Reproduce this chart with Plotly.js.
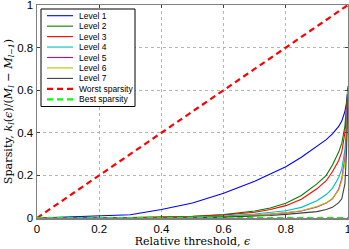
<!DOCTYPE html>
<html>
<head>
<meta charset="utf-8">
<script src="https://cdn.plot.ly/plotly-3.0.1.min.js"></script>
<style>html,body{margin:0;padding:0;background:#fff;}#chart{width:349px;height:249px;}</style>
</head>
<body>
<div id="chart"></div>
<script>
// ---- data ----
const eps = [0, 0.1, 0.2, 0.3, 0.4, 0.5, 0.6, 0.7, 0.75, 0.8, 0.85, 0.9, 0.93, 0.95, 0.97, 0.98, 0.99, 0.995, 1];
const level1 = [0, 0.005, 0.009, 0.015, 0.04, 0.07, 0.116, 0.172, 0.206, 0.241, 0.285, 0.335, 0.368, 0.395, 0.43, 0.455, 0.5, 0.54, 0.61];
const level2 = [0, 0, 0.001, 0.002, 0.004, 0.008, 0.016, 0.033, 0.047, 0.069, 0.106, 0.16, 0.2, 0.249, 0.31, 0.35, 0.43, 0.51, 0.62];
const level3 = [0, 0, 0.001, 0.002, 0.004, 0.007, 0.014, 0.027, 0.04, 0.058, 0.088, 0.137, 0.175, 0.217, 0.27, 0.31, 0.40, 0.48, 0.61];
const level4 = [0, 0, 0, 0.001, 0.002, 0.004, 0.009, 0.019, 0.026, 0.034, 0.05, 0.081, 0.11, 0.139, 0.19, 0.23, 0.32, 0.42, 0.6];
const level5 = [0, 0, 0, 0, 0.001, 0.002, 0.005, 0.012, 0.018, 0.024, 0.033, 0.052, 0.07, 0.09, 0.135, 0.185, 0.28, 0.38, 0.6];
const level6 = [0, 0, 0, 0, 0.001, 0.002, 0.005, 0.013, 0.019, 0.025, 0.034, 0.054, 0.072, 0.092, 0.13, 0.175, 0.26, 0.36, 0.6];
const level7 = [0, 0, 0, 0, 0, 0.001, 0.004, 0.008, 0.012, 0.017, 0.022, 0.03, 0.04, 0.05, 0.072, 0.09, 0.16, 0.3, 0.58];
const boundX = [0, 1];
const worstY = [0, 1];
const bestY = [0, 0];
const seriesNames = ["Level 1", "Level 2", "Level 3", "Level 4", "Level 5", "Level 6", "Level 7", "Worst sparsity", "Best sparsity"];
const tickVals = [0, 0.2, 0.4, 0.6, 0.8, 1];
const tickText = ["0", "0.2", "0.4", "0.6", "0.8", "1"];

// ---- styles ----
const colors = ["#0000ff", "#008000", "#ff0000", "#00bfbf", "#bf00bf", "#bfbf00", "#404040", "#ff0000", "#00ff00"];
const levels = [level1, level2, level3, level4, level5, level6, level7];

const traces = levels.map((ys, i) => ({
  x: eps, y: ys, type: "scatter", mode: "lines", name: seriesNames[i],
  line: {color: colors[i], width: 1.1}, showlegend: false, hoverinfo: "skip"
}));
traces.push({x: boundX, y: worstY, type: "scatter", mode: "lines", name: seriesNames[7],
  line: {color: colors[7], width: 2.2, dash: "6px,4px"}, showlegend: false});
traces.push({x: boundX, y: bestY, type: "scatter", mode: "lines", name: seriesNames[8],
  line: {color: colors[8], width: 2.2, dash: "6px,4px"}, showlegend: false});

// plot-area geometry in pixels
const L = 37, R = 348, T = 5, B = 218;
const px2x = p => (p - L) / (R - L);
const py2y = p => (B - p) / (B - T);

// custom legend
const shapes = [{
  type: "rect", xref: "paper", yref: "paper",
  x0: px2x(41), x1: px2x(135), y0: py2y(106.5), y1: py2y(9),
  fillcolor: "#ffffff", line: {color: "#000000", width: 1}, layer: "above"
}];
const annotations = [];
seriesNames.forEach((nm, i) => {
  const yy = py2y(15.7 + i * 10.45);
  const dashed = i >= 7;
  shapes.push({type: "line", xref: "paper", yref: "paper", x0: px2x(47), x1: px2x(73), y0: yy, y1: yy,
    line: {color: colors[i], width: dashed ? 2.2 : 1.1, dash: dashed ? "6px,4px" : "solid"}, layer: "above"});
  annotations.push({xref: "paper", yref: "paper", x: px2x(77), y: yy, text: nm, showarrow: false,
    xanchor: "left", yanchor: "middle", font: {family: "Liberation Sans, Arial, sans-serif", size: 8.5, color: "#000"}});
});

const axisCommon = {
  range: [0, 1], tickvals: tickVals, ticktext: tickText,
  showgrid: true, gridcolor: "#b4b4b4", gridwidth: 1, griddash: "dot",
  zeroline: false, showline: true, linecolor: "#808080", linewidth: 1.5, mirror: "ticks",
  ticks: "inside", ticklen: 3, tickcolor: "#404040", tickwidth: 1,
  ticklabeloverflow: "allow",
  tickfont: {family: "Liberation Sans, Arial, sans-serif", size: 11.5, color: "#000"},
  fixedrange: true
};

const layout = {
  width: 349, height: 249,
  margin: {l: L, r: 349 - R, t: T, b: 249 - B, pad: 0},
  paper_bgcolor: "#ffffff", plot_bgcolor: "#ffffff",
  showlegend: false,
  xaxis: Object.assign({}, axisCommon, {
    title: {text: "Relative threshold, <i>ϵ</i>", standoff: 2,
      font: {family: "DejaVu Serif, Liberation Serif, serif", size: 11, color: "#000"}}
  }),
  yaxis: Object.assign({}, axisCommon, {
    title: {text: "Sparsity, <i>k<sub>l</sub></i>(<i>ϵ</i>)/(<i>M<sub>l</sub></i> − <i>M<sub>l−1</sub></i>)", standoff: 2,
      font: {family: "DejaVu Serif, Liberation Serif, serif", size: 11.2, color: "#000"}}
  }),
  shapes: shapes,
  annotations: annotations
};

Plotly.newPlot("chart", traces, layout, {staticPlot: true, displayModeBar: false});
</script>
</body>
</html>
